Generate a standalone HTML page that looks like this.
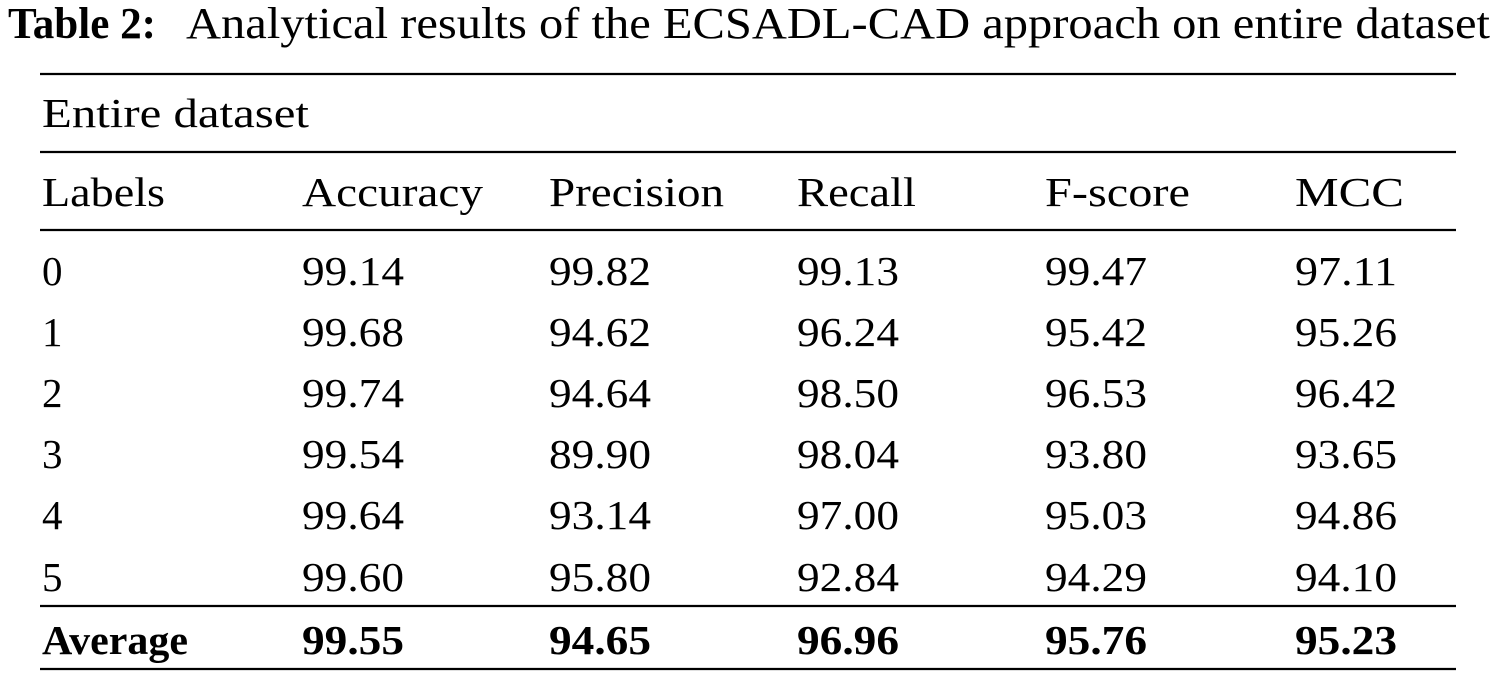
<!DOCTYPE html>
<html><head><meta charset="utf-8"><style>
html,body{margin:0;padding:0;background:#fff;}
svg{display:block;}
text{font-family:"Liberation Serif","Times New Roman",serif;fill:#000;}
</style></head><body>
<svg width="1496" height="675" viewBox="0 0 1496 675" xmlns="http://www.w3.org/2000/svg">
<text x="8" y="38" font-size="44" font-weight="bold" textLength="148" lengthAdjust="spacingAndGlyphs">Table 2:</text>
<text x="186" y="38" font-size="44" textLength="1304" lengthAdjust="spacingAndGlyphs">Analytical results of the ECSADL-CAD approach on entire dataset</text>
<g stroke="#000" stroke-width="2.2">
<line x1="40" y1="74" x2="1456" y2="74"/>
<line x1="40" y1="152" x2="1456" y2="152"/>
<line x1="40" y1="230" x2="1456" y2="230"/>
<line x1="40" y1="606" x2="1456" y2="606"/>
<line x1="40" y1="669" x2="1456" y2="669"/>
</g>
<g font-size="41" lengthAdjust="spacingAndGlyphs">
<text x="42" y="127" textLength="267" lengthAdjust="spacingAndGlyphs">Entire dataset</text>
<text x="42" y="206" textLength="123" lengthAdjust="spacingAndGlyphs">Labels</text><text x="302" y="206" textLength="181" lengthAdjust="spacingAndGlyphs">Accuracy</text><text x="549" y="206" textLength="175" lengthAdjust="spacingAndGlyphs">Precision</text><text x="797" y="206" textLength="119" lengthAdjust="spacingAndGlyphs">Recall</text><text x="1045" y="206" textLength="145" lengthAdjust="spacingAndGlyphs">F-score</text><text x="1295" y="206" textLength="109" lengthAdjust="spacingAndGlyphs">MCC</text>
</g>
<g font-size="41">
<text x="42" y="285">0</text><text x="302" y="285" textLength="102" lengthAdjust="spacingAndGlyphs">99.14</text><text x="549" y="285" textLength="102" lengthAdjust="spacingAndGlyphs">99.82</text><text x="797" y="285" textLength="102" lengthAdjust="spacingAndGlyphs">99.13</text><text x="1045" y="285" textLength="102" lengthAdjust="spacingAndGlyphs">99.47</text><text x="1295" y="285" textLength="102" lengthAdjust="spacingAndGlyphs">97.11</text>
<text x="42" y="346">1</text><text x="302" y="346" textLength="102" lengthAdjust="spacingAndGlyphs">99.68</text><text x="549" y="346" textLength="102" lengthAdjust="spacingAndGlyphs">94.62</text><text x="797" y="346" textLength="102" lengthAdjust="spacingAndGlyphs">96.24</text><text x="1045" y="346" textLength="102" lengthAdjust="spacingAndGlyphs">95.42</text><text x="1295" y="346" textLength="102" lengthAdjust="spacingAndGlyphs">95.26</text>
<text x="42" y="407">2</text><text x="302" y="407" textLength="102" lengthAdjust="spacingAndGlyphs">99.74</text><text x="549" y="407" textLength="102" lengthAdjust="spacingAndGlyphs">94.64</text><text x="797" y="407" textLength="102" lengthAdjust="spacingAndGlyphs">98.50</text><text x="1045" y="407" textLength="102" lengthAdjust="spacingAndGlyphs">96.53</text><text x="1295" y="407" textLength="102" lengthAdjust="spacingAndGlyphs">96.42</text>
<text x="42" y="468">3</text><text x="302" y="468" textLength="102" lengthAdjust="spacingAndGlyphs">99.54</text><text x="549" y="468" textLength="102" lengthAdjust="spacingAndGlyphs">89.90</text><text x="797" y="468" textLength="102" lengthAdjust="spacingAndGlyphs">98.04</text><text x="1045" y="468" textLength="102" lengthAdjust="spacingAndGlyphs">93.80</text><text x="1295" y="468" textLength="102" lengthAdjust="spacingAndGlyphs">93.65</text>
<text x="42" y="529">4</text><text x="302" y="529" textLength="102" lengthAdjust="spacingAndGlyphs">99.64</text><text x="549" y="529" textLength="102" lengthAdjust="spacingAndGlyphs">93.14</text><text x="797" y="529" textLength="102" lengthAdjust="spacingAndGlyphs">97.00</text><text x="1045" y="529" textLength="102" lengthAdjust="spacingAndGlyphs">95.03</text><text x="1295" y="529" textLength="102" lengthAdjust="spacingAndGlyphs">94.86</text>
<text x="42" y="591">5</text><text x="302" y="591" textLength="102" lengthAdjust="spacingAndGlyphs">99.60</text><text x="549" y="591" textLength="102" lengthAdjust="spacingAndGlyphs">95.80</text><text x="797" y="591" textLength="102" lengthAdjust="spacingAndGlyphs">92.84</text><text x="1045" y="591" textLength="102" lengthAdjust="spacingAndGlyphs">94.29</text><text x="1295" y="591" textLength="102" lengthAdjust="spacingAndGlyphs">94.10</text>
</g>
<g font-size="41" font-weight="bold">
<text x="42" y="654" textLength="146" lengthAdjust="spacingAndGlyphs">Average</text><text x="302" y="654" textLength="102" lengthAdjust="spacingAndGlyphs">99.55</text><text x="549" y="654" textLength="102" lengthAdjust="spacingAndGlyphs">94.65</text><text x="797" y="654" textLength="102" lengthAdjust="spacingAndGlyphs">96.96</text><text x="1045" y="654" textLength="102" lengthAdjust="spacingAndGlyphs">95.76</text><text x="1295" y="654" textLength="102" lengthAdjust="spacingAndGlyphs">95.23</text>
</g>
</svg>
</body></html>
